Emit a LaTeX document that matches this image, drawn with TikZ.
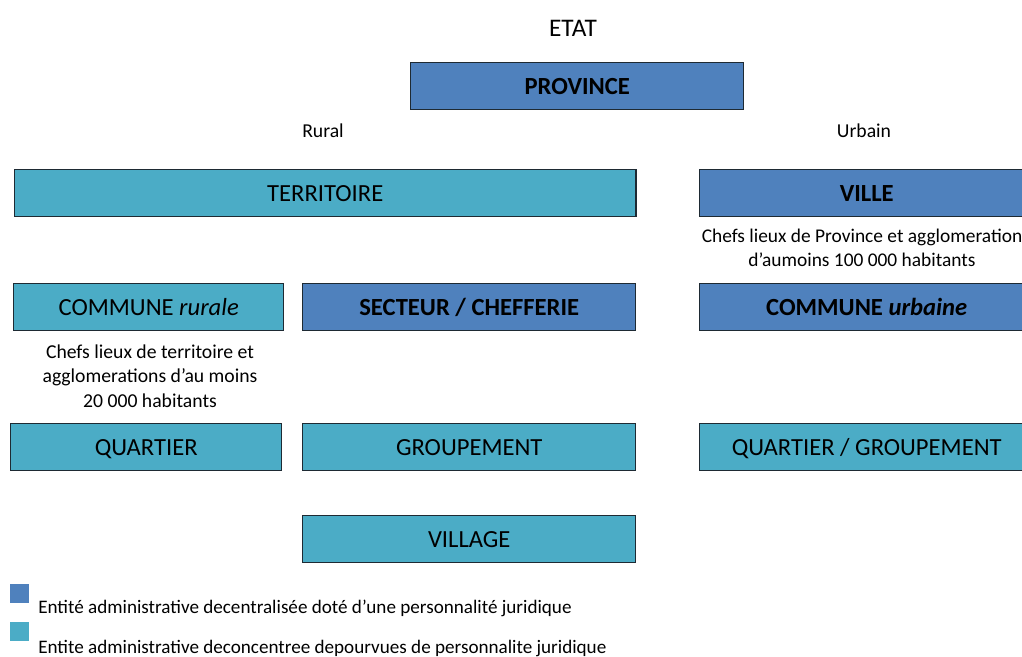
\documentclass[tikz,border=0pt]{standalone}
\usepackage{fontspec}
\setmainfont{Carlito}
\usetikzlibrary{positioning}
\definecolor{provblue}{HTML}{4F81BD}
\definecolor{terrblue}{HTML}{4BACC6}
\definecolor{edgedark}{HTML}{1E2A33}

\begin{document}
\begin{tikzpicture}[
      x=0.025cm, y=-0.025cm,
      box/.style={rectangle, draw=edgedark, line width=1pt, anchor=north west, inner sep=0pt, minimum height=1.175cm, text height=11.3pt, text depth=0pt, text centered, font=\fontsize{17.5}{19}\selectfont},
      decentr/.style={box, fill=provblue, font=\fontsize{17.5}{19}\selectfont\bfseries},
      deconc/.style={box, fill=terrblue},
      note/.style={align=center, font=\fontsize{14}{17.5}\selectfont},
      legsq/.style={rectangle, inner sep=0pt, minimum size=0.475cm, anchor=north west},
      legtxt/.style={anchor=west, inner sep=0pt, font=\fontsize{13.6}{15}\selectfont}
    ]
      \useasboundingbox (0,0) rectangle (1022,657);

      \node[font=\fontsize{18}{20}\selectfont] (etat) at (573,28) {ETAT};
      \node[decentr, minimum width=8.325cm] (province) at (410,62) {PROVINCE};

      \node[note] (rural) at (323,131) {Rural};
      \node[note] (urbain) at (864,131) {Urbain};

      % rural side
      \node[deconc, minimum width=15.525cm] (territoire) at (14,169) {TERRITOIRE};
      \node[deconc, minimum width=6.75cm] (communeR) at (13,283) {COMMUNE \textit{rurale}};
      \node[decentr, minimum width=8.325cm] (secteur) at (302,283) {SECTEUR / CHEFFERIE};
      \node[note] (noteR) at (150,376) {Chefs lieux de territoire et\\agglomerations d'au moins\\20 000 habitants};
      \node[deconc, minimum width=6.775cm] (quartier) at (10,423) {QUARTIER};
      \node[deconc, minimum width=8.325cm] (groupement) at (302,423) {GROUPEMENT};
      \node[deconc, minimum width=8.325cm] (village) at (302,515) {VILLAGE};

      % urban side
      \node[decentr, minimum width=8.35cm] (ville) at (699,169) {VILLE};
      \node[note, font=\fontsize{13.8}{17.5}\selectfont] (noteU) at (862,248) {Chefs lieux de Province et agglomeration\\d'aumoins 100 000 habitants};
      \node[decentr, minimum width=8.35cm] (communeU) at (699,283) {COMMUNE \textit{urbaine}};
      \node[deconc, minimum width=8.35cm] (quartierU) at (699,423) {QUARTIER / GROUPEMENT};

      % legend
      \node[legsq, fill=provblue] (legDark) at (10,584) {};
      \node[legtxt] (legDarkTxt) at (38,608) {Entité administrative decentralisée doté d'une personnalité juridique};
      \node[legsq, fill=terrblue] (legLight) at (10,622) {};
      \node[legtxt] (legLightTxt) at (38,648) {Entite administrative deconcentree depourvues de personnalite juridique};
    \end{tikzpicture}
\end{document}
